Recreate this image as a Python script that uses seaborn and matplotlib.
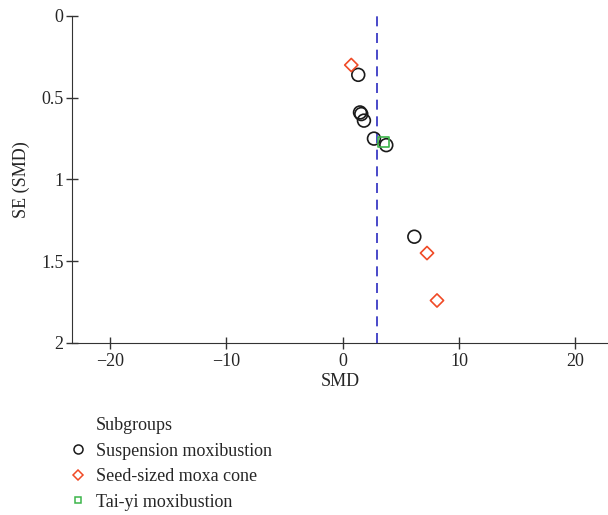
import matplotlib
matplotlib.use("Agg")
import matplotlib.pyplot as plt
import numpy as np
import pandas as pd
import seaborn as sns

# valores (funil)
smd = [1.33, 1.48, 1.59, 1.82, 2.68, 3.74, 6.15,
       0.73, 7.24, 8.10,
       3.51]
se = [0.36, 0.59, 0.60, 0.64, 0.75, 0.79, 1.35,
      0.30, 1.45, 1.74,
      0.77]
subgroup = (["Suspension moxibustion"] * 7
            + ["Seed-sized moxa cone"] * 3
            + ["Tai-yi moxibustion"])
pooled_smd = 2.9

order = ["Suspension moxibustion", "Seed-sized moxa cone", "Tai-yi moxibustion"]
colors = {"Suspension moxibustion": "#1a1a1a",
          "Seed-sized moxa cone": "#f04a26",
          "Tai-yi moxibustion": "#3cb54a"}
markers = {"Suspension moxibustion": "o",
           "Seed-sized moxa cone": "D",
           "Tai-yi moxibustion": "s"}
sizes = {"Suspension moxibustion": 85,
         "Seed-sized moxa cone": 45,
         "Tai-yi moxibustion": 55}

df = pd.DataFrame({"SMD": smd, "SE": se, "Subgroups": subgroup})

sns.set_style("ticks")
plt.rcParams["font.family"] = ["Liberation Serif", "DejaVu Serif"]
plt.rcParams["font.size"] = 13

fig = plt.figure(figsize=(6.08, 5.15), dpi=100)
ax = fig.add_axes([0.118, 0.334, 0.882, 0.635])

for g in order:
    sub = df[df["Subgroups"] == g]
    sns.scatterplot(data=sub, x="SMD", y="SE", ax=ax, marker=markers[g],
                    s=sizes[g], facecolor="none", edgecolor=colors[g],
                    linewidth=1.2, legend=False, zorder=3)

ax.axvline(pooled_smd, color="#2a2ac0", linestyle=(0, (6, 4)), linewidth=1.2, zorder=2)

ax.set_xlim(-23.3, 22.8)
ax.set_ylim(2, 0)
ax.set_xticks([-20, -10, 0, 10, 20])
ax.set_xticklabels(["\u221220", "\u221210", "0", "10", "20"])
ax.set_yticks([0, 0.5, 1, 1.5, 2])
ax.set_yticklabels(["0", "0.5", "1", "1.5", "2"])
ax.set_xlabel("SMD", fontsize=13, labelpad=2)
ax.set_ylabel("SE (SMD)", fontsize=13, labelpad=8)
ax.tick_params(direction="inout", length=8, width=1, color="#333333", labelsize=13)
ax.tick_params(axis="y", pad=2)
for s in ["top", "right"]:
    ax.spines[s].set_visible(False)
for s in ["left", "bottom"]:
    ax.spines[s].set_color("#333333")

# legenda: "Subgroups" como linha sem marcador, alinhada com os textos
handles = [plt.Line2D([], [], linestyle="none")]
for g in order:
    ms = {"Suspension moxibustion": 6.5, "Seed-sized moxa cone": 5.2, "Tai-yi moxibustion": 5.0}[g]
    handles.append(plt.Line2D([], [], linestyle="none", marker=markers[g], markersize=ms,
                              markerfacecolor="none", markeredgecolor=colors[g],
                              markeredgewidth=1.1))
fig.legend(handles, ["Subgroups"] + order, loc="upper left",
           bbox_to_anchor=(0.1135, 0.19), frameon=False, fontsize=13,
           handletextpad=0.5, labelspacing=0.47, handlelength=1.0,
           borderaxespad=0, borderpad=0)

fig.savefig("out.png", dpi=100)
plt.close(fig)
